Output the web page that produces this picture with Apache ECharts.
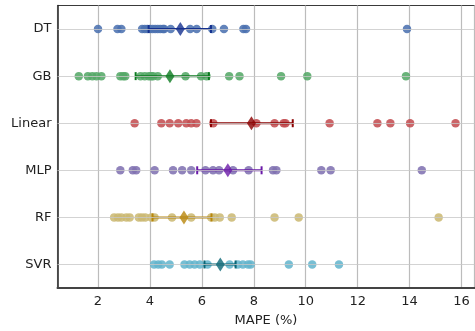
<!DOCTYPE html>
<html>
<head>
<meta charset="utf-8">
<script src="https://cdn.jsdelivr.net/npm/echarts@6/dist/echarts.min.js"></script>
<style>
  html, body { margin: 0; padding: 0; background: #fff; }
  #chart { width: 475px; height: 331px; }
</style>
</head>
<body>
<div id="chart"></div>
<script>
// models, top to bottom
const models = ['DT', 'GB', 'Linear', 'MLP', 'RF', 'SVR'];

// per-run MAPE values
const dtVals = [2.0, 2.75, 2.9, 3.7, 3.8, 3.9, 4.0, 4.1, 4.2, 4.3, 4.4, 4.5, 4.55, 4.8, 5.55, 5.8, 6.4, 6.85, 7.6, 7.7, 13.9];
const gbVals = [1.26, 1.61, 1.78, 1.94, 2.13, 2.86, 2.97, 3.05, 3.64, 3.8, 3.96, 4.05, 4.12, 4.3, 5.37, 5.97, 6.18, 7.05, 7.45, 9.05, 10.06, 13.86];
const linearVals = [3.41, 4.44, 4.76, 5.09, 5.4, 5.59, 5.79, 6.44, 8.1, 8.8, 9.15, 9.22, 10.92, 12.76, 13.26, 14.02, 15.77];
const mlpVals = [2.86, 3.34, 3.47, 4.18, 4.89, 5.24, 5.59, 6.14, 6.43, 6.66, 7.2, 7.8, 8.74, 8.87, 10.6, 10.96, 14.47];
const rfVals = [2.62, 2.77, 2.9, 3.09, 3.22, 3.57, 3.69, 3.82, 4.05, 4.18, 4.85, 5.59, 6.36, 6.5, 6.69, 7.15, 8.8, 9.73, 15.12];
const svrVals = [4.16, 4.32, 4.46, 4.76, 5.33, 5.53, 5.72, 5.92, 6.22, 7.07, 7.39, 7.58, 7.78, 7.88, 9.35, 10.25, 11.28];

// mean and interval per model
const means = [5.17, 4.77, 7.91, 7.0, 5.31, 6.71];
const ciLow = [3.95, 3.45, 6.35, 5.82, 4.1, 6.1];
const ciHigh = [6.35, 6.27, 9.5, 8.3, 6.37, 7.3];

const allVals = [dtVals, gbVals, linearVals, mlpVals, rfVals, svrVals];
const pointColors = ['#4c72b0', '#55a868', '#c44e52', '#8172b2', '#ccb974', '#64b5cd'];
const darkColors = ['#14308f', '#0b7a1f', '#8b0000', '#6a1aa8', '#b8860b', '#0b6676'];

const font = 'DejaVu Sans';
const chart = echarts.init(document.getElementById('chart'));

const series = [];

// strip points
allVals.forEach((vals, i) => {
  series.push({
    type: 'scatter',
    data: vals.map(v => [v, models[i]]),
    symbolSize: 8.5,
    itemStyle: { color: pointColors[i], opacity: 0.88 },
    z: 3,
    silent: true
  });
});

// horizontal guide lines at each model
series.push({
  type: 'scatter',
  data: [],
  markLine: {
    silent: true,
    symbol: 'none',
    label: { show: false },
    lineStyle: { color: '#c8c8c8', width: 0.8, type: 'solid' },
    data: models.map(m => ({ yAxis: m }))
  },
  z: 1
});

// error bars
series.push({
  type: 'custom',
  data: models.map((m, i) => [ciLow[i], ciHigh[i], i]),
  encode: { x: [0, 1], y: 2 },
  z: 4,
  silent: true,
  renderItem: (params, api) => {
    const idx = api.value(2);
    const p1 = api.coord([api.value(0), idx]);
    const p2 = api.coord([api.value(1), idx]);
    const h = 4;
    const stroke = darkColors[params.dataIndex];
    const st = { stroke: stroke, lineWidth: 2 };
    return {
      type: 'group',
      children: [
        { type: 'line', shape: { x1: p1[0], y1: p1[1], x2: p2[0], y2: p2[1] }, style: st },
        { type: 'line', shape: { x1: p1[0], y1: p1[1] - h, x2: p1[0], y2: p1[1] + h }, style: st },
        { type: 'line', shape: { x1: p2[0], y1: p2[1] - h, x2: p2[0], y2: p2[1] + h }, style: st }
      ]
    };
  }
});

// means
series.push({
  type: 'scatter',
  data: means.map((v, i) => ({ value: [v, models[i]], itemStyle: { color: darkColors[i] } })),
  symbol: 'diamond',
  symbolSize: [9, 14],
  z: 5,
  silent: true
});

chart.setOption({
  animation: false,
  grid: {
    left: 57.5, right: 0.5, top: 5.5, bottom: 43,
    show: true,
    outerBoundsMode: 'none',
    containLabel: false,
    borderColor: '#3a3a3a',
    borderWidth: 1
  },
  xAxis: {
    type: 'value',
    min: 0.44,
    max: 16.5,
    splitNumber: 8,
    name: 'MAPE (%)',
    nameLocation: 'middle',
    nameGap: 26,
    nameTextStyle: { fontFamily: font, fontSize: 13, color: '#222' },
    axisLine: { show: true, lineStyle: { color: '#444', width: 2 } },
    axisTick: { show: false },
    axisLabel: {
      fontFamily: font, fontSize: 13, color: '#222', margin: 7,
      showMinLabel: false, showMaxLabel: false,
      formatter: v => (Math.abs(v - Math.round(v)) < 1e-6 ? String(Math.round(v)) : '')
    },
    splitLine: { show: true, lineStyle: { color: '#bcbcbc', width: 1.2 } }
  },
  yAxis: {
    type: 'category',
    data: models,
    inverse: true,
    boundaryGap: true,
    axisLine: { show: true, lineStyle: { color: '#222', width: 1.5 } },
    axisTick: { show: false },
    axisLabel: { fontFamily: font, fontSize: 13, color: '#222', margin: 6 },
    splitLine: { show: false }
  },
  series: series
});
</script>
</body>
</html>
